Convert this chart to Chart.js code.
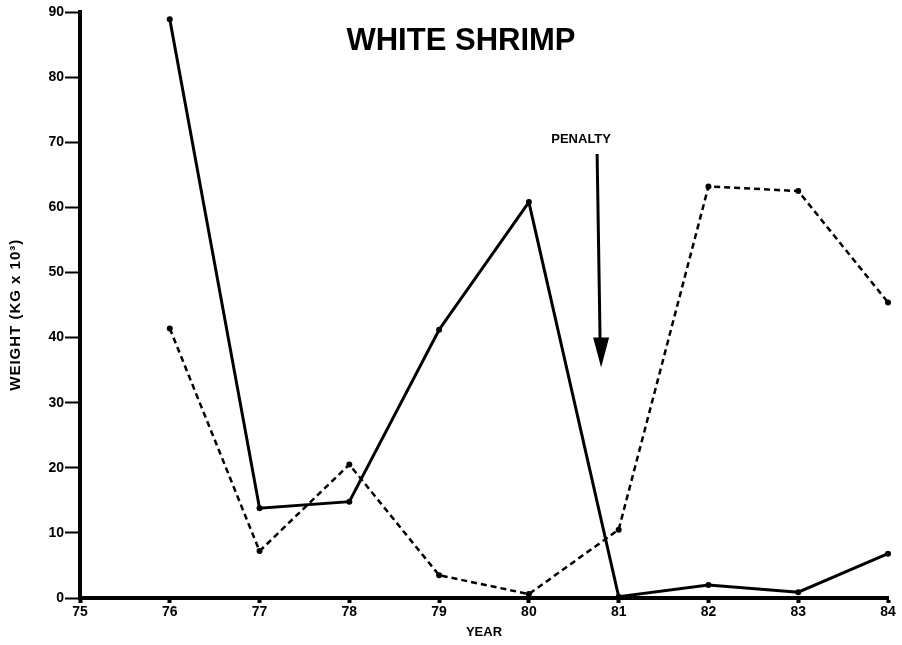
<!DOCTYPE html>
<html>
<head>
<meta charset="utf-8">
<script src="https://cdn.jsdelivr.net/npm/chart.js@4/dist/chart.umd.min.js"></script>
<style>
  html, body { margin: 0; padding: 0; background: #fff; }
  #wrap { width: 902px; height: 645px; }
</style>
</head>
<body>
<div id="wrap"><canvas id="myChart" width="902" height="645"></canvas></div>
<script>
var years = [76, 77, 78, 79, 80, 81, 82, 83, 84];
var solidWeight = [88.9, 13.8, 14.8, 41.2, 60.8, 0.2, 2.0, 0.9, 6.8];
var dashedWeight = [41.4, 7.2, 20.5, 3.5, 0.6, 10.5, 63.2, 62.5, 45.4];
var yTicks = [0, 10, 20, 30, 40, 50, 60, 70, 80, 90];
var xTicks = [75, 76, 77, 78, 79, 80, 81, 82, 83, 84];

var chartTitle = 'WHITE SHRIMP';
var yTitle = 'WEIGHT (KG x 10³)';
var penaltyLabel = 'PENALTY';
var penaltyX = 80.76;      // year where the arrow points
var penaltyTop = 68.2;     // arrow start (weight)
var penaltyTip = 35.4;     // arrow tip (weight)

function toPoints(vals) {
    return years.map(function (yr, i) { return { x: yr, y: vals[i] }; });
}

var FONT = '"Liberation Sans", Arial, Helvetica, sans-serif';

const annotations = {
    id: 'annotations',
    afterDraw: function (chart) {
        var ctx = chart.ctx;
        var x = chart.scales.x, y = chart.scales.y;
        ctx.save();
        ctx.fillStyle = '#000';
        ctx.strokeStyle = '#000';

        // title
        ctx.font = 'bold 31px ' + FONT;
        ctx.textAlign = 'center';
        ctx.textBaseline = 'middle';
        ctx.fillText(chartTitle, 461, 41);

        // y axis title, rotated
        ctx.save();
        ctx.translate(16, y.getPixelForValue(43.5));
        ctx.rotate(-Math.PI / 2);
        ctx.font = 'bold 15px ' + FONT;
        ctx.letterSpacing = '1px';
        ctx.fillText(yTitle, 0, 0);
        ctx.restore();

        // penalty arrow
        var ax = x.getPixelForValue(penaltyX);
        var top = y.getPixelForValue(penaltyTop);
        var tip = y.getPixelForValue(penaltyTip);
        ctx.font = 'bold 13px ' + FONT;
        ctx.fillText(penaltyLabel, ax - 16, top - 15);
        ctx.lineWidth = 3;
        ctx.beginPath();
        ctx.moveTo(ax, top);
        ctx.lineTo(ax + 3, tip - 25);
        ctx.stroke();
        ctx.beginPath();
        ctx.moveTo(ax + 4, tip);
        ctx.lineTo(ax - 4, tip - 30);
        ctx.lineTo(ax + 12, tip - 30);
        ctx.closePath();
        ctx.fill();
        ctx.restore();
    }
};

const data = {
    datasets: [{
        label: 'solid',
        data: toPoints(solidWeight),
        borderColor: '#000',
        backgroundColor: '#000',
        borderWidth: 3,
        pointRadius: 3,
        pointBorderWidth: 0,
        tension: 0
    }, {
        label: 'dashed',
        data: toPoints(dashedWeight),
        borderColor: '#000',
        backgroundColor: '#000',
        borderWidth: 2.5,
        borderDash: [6, 4],
        pointRadius: 3,
        pointBorderWidth: 0,
        tension: 0
    }]
};

const config = {
    type: 'line',
    data: data,
    options: {
        responsive: false,
        animation: false,
        clip: false,
        layout: { padding: { top: 12, right: 14, left: 0, bottom: 5 } },
        plugins: { legend: { display: false }, tooltip: { enabled: false } },
        scales: {
            x: {
                type: 'linear',
                min: 75,
                max: 84,
                afterFit: function (s) { s.height = 42; },
                afterBuildTicks: function (s) { s.ticks = xTicks.map(function (v) { return { value: v }; }); },
                border: { display: true, color: '#000', width: 4 },
                grid: { drawOnChartArea: false, drawTicks: true, tickLength: 5, tickWidth: 4, tickColor: '#000' },
                ticks: { color: '#000', padding: 1, font: { family: FONT, size: 14, weight: 'bold' } },
                title: { display: true, text: 'YEAR', color: '#000', padding: { top: 0, bottom: 0 },
                         font: { family: FONT, size: 13, weight: 'bold' } }
            },
            y: {
                min: 0,
                max: 90,
                afterFit: function (s) { s.width = 80; },
                afterBuildTicks: function (s) { s.ticks = yTicks.map(function (v) { return { value: v }; }); },
                border: { display: true, color: '#000', width: 4 },
                grid: { drawOnChartArea: false, drawTicks: true, tickLength: 15, tickWidth: 2, tickColor: '#000' },
                ticks: { color: '#000', padding: 1, font: { family: FONT, size: 14, weight: 'bold' } },
                title: { display: false }
            }
        }
    },
    plugins: [annotations]
};

const myChart = new Chart(document.getElementById('myChart'), config);
</script>
</body>
</html>
